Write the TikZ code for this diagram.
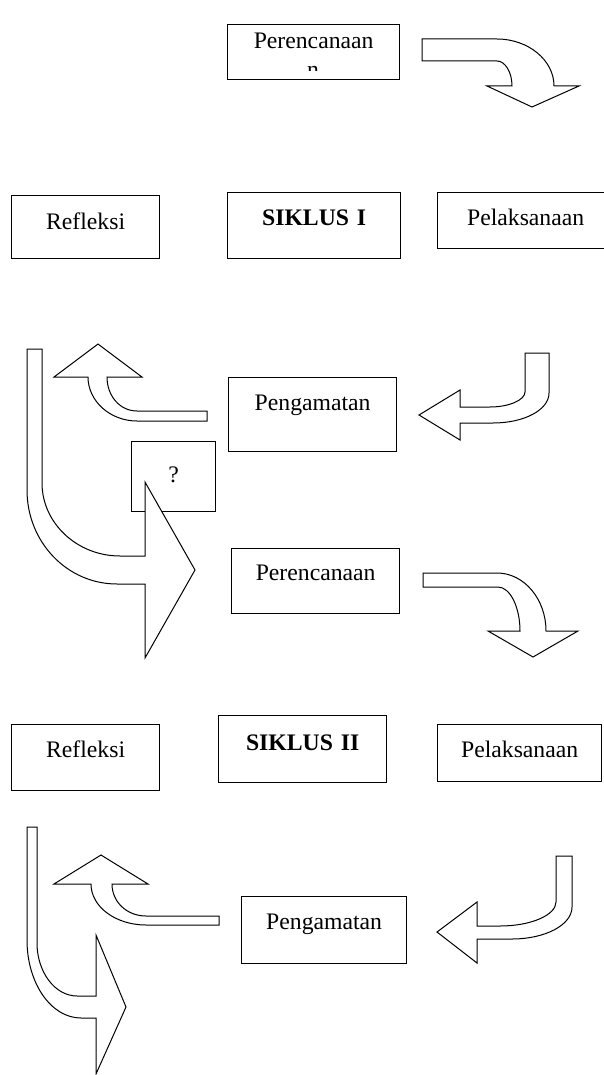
\documentclass[tikz,border=0pt]{standalone}
\usepackage{fontspec}
\setmainfont{Liberation Serif}

\begin{document}
\begin{tikzpicture}[x=1pt, y=-1pt,
    kotak/.style={draw, line width=1.3pt, anchor=north west, inner sep=0pt,
        align=center, font=\fontsize{23.7}{28}\selectfont},
    panah/.style={draw, fill=white, line width=1pt, line join=miter}]
    \useasboundingbox (0,0) rectangle (604,1075);
    \clip (0,0) rectangle (604,1075);

    \node[kotak, text width=172pt, text height=24pt, text depth=31pt] (rencanaA) at (227,24) {Perencanaan};
    \begin{scope}
        \clip (227,60) rectangle (399,71);
        \node[anchor=base, inner sep=0pt, font=\fontsize{23.7}{28}\selectfont] (sisaN) at (313,78) {n};
    \end{scope}
    \node[kotak, text width=148pt, text height=34pt, text depth=29pt] (refleksiA) at (11,195) {Refleksi};
    \node[kotak, text width=173pt, text height=33pt, text depth=33pt] (siklusA) at (227,192) {\textbf{SIKLUS I}};
    \node[kotak, text width=176pt, text height=33pt, text depth=23pt] (laksanaA) at (437,192) {Pelaksanaan};
    \node[kotak, text width=168pt, text height=33pt, text depth=41pt] (amatA) at (228,377) {Pengamatan};
    \node[kotak, text width=84pt, text height=41pt, text depth=29pt] (tanya) at (131,441) {?};

    \node[kotak, text width=168pt, text height=32pt, text depth=33pt] (rencanaB) at (231,548) {Perencanaan};
    \node[kotak, text width=148pt, text height=33pt, text depth=33pt] (refleksiB) at (11,724) {Refleksi};
    \node[kotak, text width=168pt, text height=35pt, text depth=32pt] (siklusB) at (218,715) {\textbf{SIKLUS II}};
    \node[kotak, text width=164pt, text height=33pt, text depth=24pt] (laksanaB) at (437,724) {Pelaksanaan};
    \node[kotak, text width=165pt, text height=33pt, text depth=34pt] (amatB) at (241,896) {Pengamatan};

    \draw[panah] (422,39) -- (497,39) .. controls (528,39) and (554,60) .. (554,86) -- (579,86) -- (532,107)
        -- (487,86) -- (512,86) .. controls (512,72) and (505,61) .. (497,61) -- (422,61) -- cycle;
    \draw[panah] (525,353) -- (549,353) -- (549,393) .. controls (549,410) and (524,423) .. (493,423)
        -- (460,423) -- (460,440) -- (419,415) -- (460,390) -- (460,407) -- (490,407)
        .. controls (509,407) and (525,400) .. (525,392) -- cycle;
    \draw[panah] (207,411) -- (137,411) .. controls (120,411) and (107,396) .. (107,377) -- (142,377)
        -- (98,344) -- (54,377) -- (88,377) .. controls (88,401) and (110,421) .. (137,421) -- (207,421) -- cycle;
    \draw[panah] (27,349) -- (42,349) -- (42,483) .. controls (42,523) and (77,556) .. (120,556) -- (145,556)
        -- (145,482) -- (195,570) -- (145,658) -- (145,584) -- (117,584)
        .. controls (67,584) and (27,542) .. (27,490) -- cycle;

    \draw[panah] (423,573) -- (497,573) .. controls (524,573) and (546,599) .. (546,631) -- (578,631) -- (533,657)
        -- (488,631) -- (520,631) .. controls (520,607) and (510,587) .. (498,587) -- (423,587) -- cycle;
    \draw[panah] (556,856) -- (572,856) -- (572,907) .. controls (572,925) and (545,939) .. (512,939)
        -- (477,939) -- (477,963) -- (437,932) -- (477,902) -- (477,926) -- (500,926)
        .. controls (531,926) and (556,915) .. (556,902) -- cycle;
    \draw[panah] (219,916) -- (146,916) .. controls (127,916) and (112,902) .. (112,884) -- (148,884)
        -- (101,855) -- (54,884) -- (91,884) .. controls (91,907) and (116,925) .. (146,925) -- (219,925) -- cycle;
    \draw[panah] (27,827) -- (37,827) -- (37,943) .. controls (37,972) and (55,996) .. (77,996) -- (96,996)
        -- (96,935) -- (126,1007) -- (96,1074) -- (96,1018) -- (81,1018)
        .. controls (51,1018) and (27,983) .. (27,940) -- cycle;
\end{tikzpicture}
\end{document}
